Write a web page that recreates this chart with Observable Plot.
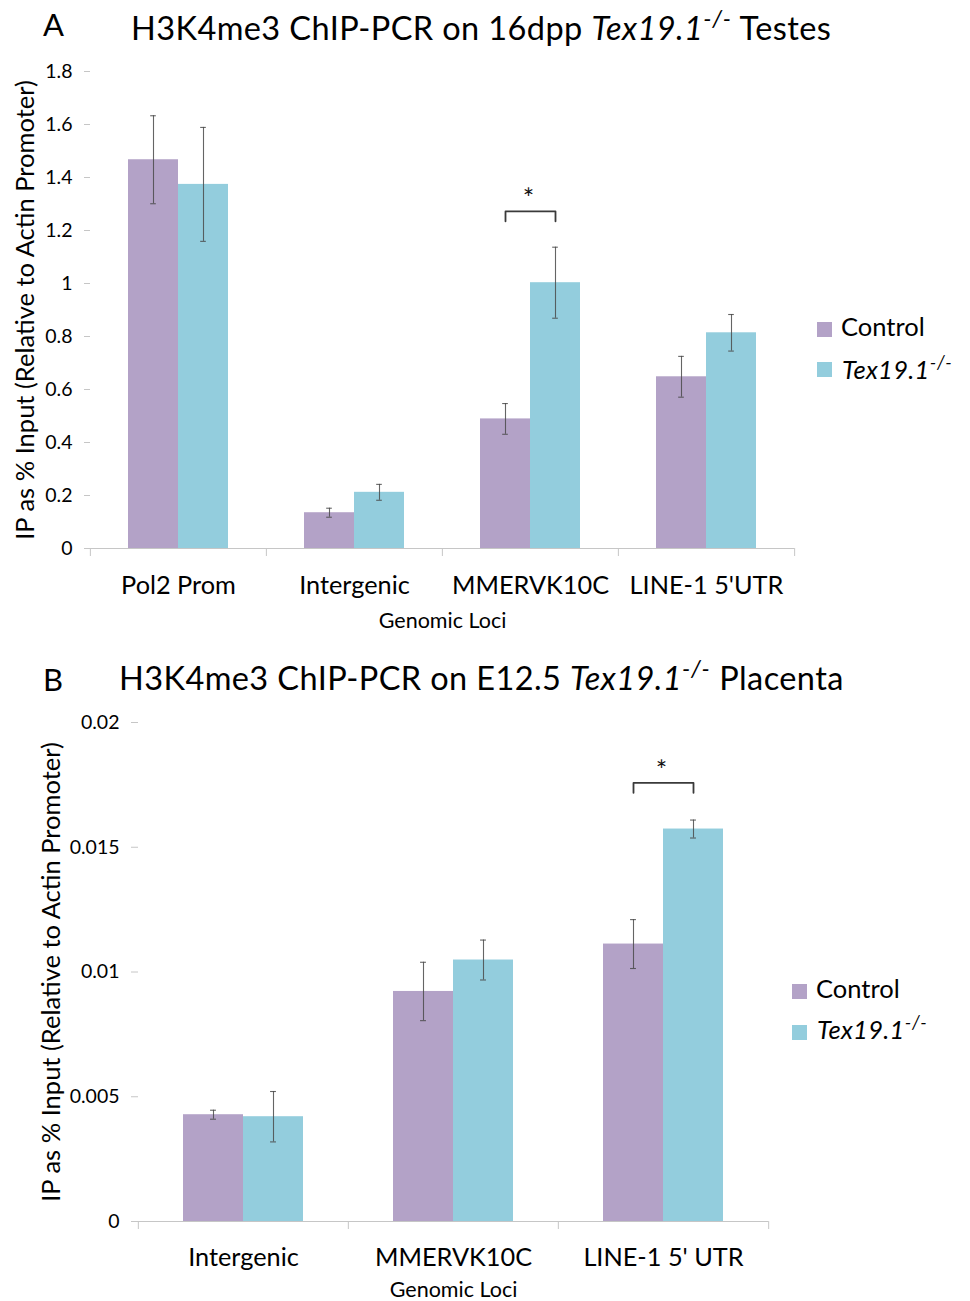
<!DOCTYPE html>
<html>
<head>
<meta charset="utf-8">
<script src="https://cdn.jsdelivr.net/npm/d3@7"></script>
<script src="https://cdn.jsdelivr.net/npm/@observablehq/plot@0.6"></script>
<style>
  body { margin: 0; background: #fff; }
  #root { position: relative; width: 970px; height: 1301px; overflow: hidden; font-family: Lato, sans-serif; color: #000; background: #fff; }
  .abs { position: absolute; white-space: nowrap; line-height: 1; }
  .panel { position: absolute; left: 0; }
  .sw { position: absolute; width: 15px; height: 15px; }
  sup { font-size: 0.72em; vertical-align: 0.55em; line-height: 0; font-style: italic; letter-spacing: 0.8px; }
</style>
</head>
<body>
<div id="root"></div>
<script>
// ---------- data ----------
const seriesNames = ["Control", "Tex19.1-/-"];
const seriesColors = ["#b3a2c7", "#93cddd"];

// Panel A: 16dpp testes
const lociA = ["Pol2 Prom", "Intergenic", "MMERVK10C", "LINE-1 5'UTR"];
const controlA = [1.467, 0.135, 0.489, 0.648];
const controlErrA = [0.166, 0.017, 0.058, 0.077];
const texA = [1.374, 0.212, 1.003, 0.814];
const texErrA = [0.215, 0.030, 0.134, 0.069];
const ticksA = [0, 0.2, 0.4, 0.6, 0.8, 1, 1.2, 1.4, 1.6, 1.8];
const sigLocusA = "MMERVK10C";
const sigLowA = 1.235;
const sigHighA = 1.272;

// Panel B: E12.5 placenta
const lociB = ["Intergenic", "MMERVK10C", "LINE-1 5' UTR"];
const controlB = [0.00428, 0.00922, 0.01112];
const controlErrB = [0.00018, 0.00117, 0.00098];
const texB = [0.0042, 0.01048, 0.01573];
const texErrB = [0.00101, 0.0008, 0.00036];
const ticksB = [0, 0.005, 0.01, 0.015, 0.02];
const sigLocusB = "LINE-1 5' UTR";
const sigLowB = 0.01718;
const sigHighB = 0.01758;

// ---------- drawing ----------
const axisGray = "#c6c6c6";
const errColor = "#4a4a4a";
const root = document.getElementById("root");

function addText(html, left, baseline, size, extra = "") {
  const d = document.createElement("div");
  d.className = "abs";
  d.style.cssText = `left:${left}px;top:${baseline - 0.887 * size}px;font-size:${size}px;${extra}`;
  d.innerHTML = html;
  root.appendChild(d);
}
function addSwatch(left, top, color) {
  const d = document.createElement("div");
  d.className = "sw";
  d.style.left = left + "px";
  d.style.top = top + "px";
  d.style.background = color;
  root.appendChild(d);
}

function panel(o) {
  const rows = [];
  o.loci.forEach((locus, i) => {
    rows.push({locus, series: seriesNames[0], value: o.ctrl[i], err: o.ctrlErr[i]});
    rows.push({locus, series: seriesNames[1], value: o.tex[i], err: o.texErr[i]});
  });
  const width = 970;
  const bandW = (width - o.ml - o.mr) / o.loci.length;
  const barW = bandW / 3.5;
  const capInset = (barW - 6) / 2;
  const bracket = [
    {locus: o.sigLocus, series: seriesNames[0], y: o.sigLow},
    {locus: o.sigLocus, series: seriesNames[0], y: o.sigHigh},
    {locus: o.sigLocus, series: seriesNames[1], y: o.sigHigh},
    {locus: o.sigLocus, series: seriesNames[1], y: o.sigLow}
  ];
  const sig = [{locus: o.sigLocus, y: o.sigHigh}];
  const last = o.loci[o.loci.length - 1];
  return Plot.plot({
    width, height: o.height,
    marginLeft: o.ml, marginRight: o.mr, marginTop: o.mt, marginBottom: o.mb,
    style: {fontFamily: "Lato, sans-serif", background: "transparent", color: "#000", overflow: "visible"},
    fx: {domain: o.loci, padding: 0},
    x: {domain: seriesNames, paddingInner: 0, paddingOuter: 0.75, axis: null},
    y: {domain: [0, o.ticks[o.ticks.length - 1]]},
    color: {domain: seriesNames, range: seriesColors},
    marks: [
      Plot.barY(rows, {fx: "locus", x: "series", y: "value", fill: "series"}),
      Plot.ruleY([0], {stroke: axisGray, strokeWidth: 1.2}),
      Plot.ruleX(rows, {fx: "locus", x: "series", y1: d => d.value - d.err, y2: d => d.value + d.err, stroke: errColor, strokeWidth: 1.1, strokeOpacity: 0.85}),
      Plot.tickY(rows, {fx: "locus", x: "series", y: d => d.value - d.err, insetLeft: capInset, insetRight: capInset, stroke: errColor, strokeWidth: 1.1, strokeOpacity: 0.85}),
      Plot.tickY(rows, {fx: "locus", x: "series", y: d => d.value + d.err, insetLeft: capInset, insetRight: capInset, stroke: errColor, strokeWidth: 1.1, strokeOpacity: 0.85}),
      Plot.line(bracket, {fx: "locus", x: "series", y: "y", stroke: "#3a3a3a", strokeWidth: 1.8}),
      Plot.text(sig, {fx: "locus", y: "y", text: () => "*", fontSize: 27, lineAnchor: "bottom", dy: -3, dx: -2, fill: "#111"}),
      Plot.axisY({ticks: o.ticks, tickFormat: o.fmt, tickSize: o.yTickSize, tickPadding: 12, stroke: axisGray, fill: "#000", fontSize: 19.5, line: true, label: null}),
      Plot.axisY({ticks: [], label: "IP as % Input (Relative to Actin Promoter)", labelArrow: "none", labelAnchor: "center", labelOffset: o.yLabelOffset, fontSize: 25.5, fill: "#000"}),
      Plot.axisFx({anchor: "bottom", tickSize: 0, tickPadding: o.fxPad, fontSize: 25.3, label: null, fill: "#000"}),
      Plot.axisFx({anchor: "bottom", tickSize: 8, tickFormat: () => "", dx: -bandW / 2, stroke: axisGray, label: null}),
      Plot.axisFx({anchor: "bottom", ticks: [last], tickSize: 8, tickFormat: () => "", dx: bandW / 2, stroke: axisGray, label: null}),
      Plot.axisFx({anchor: "bottom", ticks: [], label: "Genomic Loci", labelArrow: "none", labelAnchor: "center", labelOffset: o.fxLabelOffset, fontSize: 21.5, fill: "#000"})
    ]
  });
}

function mount(svg, top) {
  const w = document.createElement("div");
  w.className = "panel";
  w.style.top = top + "px";
  w.appendChild(svg);
  root.appendChild(w);
}

mount(panel({
  loci: lociA, ctrl: controlA, ctrlErr: controlErrA, tex: texA, texErr: texErrA,
  ticks: ticksA, fmt: d => String(+d.toFixed(1)),
  sigLocus: sigLocusA, sigLow: sigLowA, sigHigh: sigHighA,
  height: 640, ml: 89, mr: 176, mt: 71, mb: 92,
  yTickSize: 6, yLabelOffset: 75, fxPad: 28, fxLabelOffset: 79
}), 0);

mount(panel({
  loci: lociB, ctrl: controlB, ctrlErr: controlErrB, tex: texB, texErr: texErrB,
  ticks: ticksB, fmt: d => String(+d.toFixed(3)),
  sigLocus: sigLocusB, sigLow: sigLowB, sigHigh: sigHighB,
  height: 661, ml: 137, mr: 202, mt: 82, mb: 80,
  yTickSize: 7, yLabelOffset: 97, fxPad: 27, fxLabelOffset: 75
}), 640);

// titles
const texLabel = "<i>Tex19.1</i><sup>-/-</sup>";
const titleStyle = "letter-spacing:0.4px;";
addText("A", 43, 36, 31);
addText("H3K4me3 ChIP-PCR on 16dpp " + texLabel + " Testes", 131, 41, 32.5, titleStyle);
addText("B", 43, 691, 31);
addText("H3K4me3 ChIP-PCR on E12.5 " + texLabel + " Placenta", 119, 691, 32.5, titleStyle);

// legends
const legendStyle = "letter-spacing:0.3px;";
addSwatch(817, 322, seriesColors[0]);
addSwatch(817, 362, seriesColors[1]);
addText(seriesNames[0], 841, 337, 25.5);
addText(texLabel, 842, 380, 25.5, legendStyle);
addSwatch(792, 984, seriesColors[0]);
addSwatch(792, 1025, seriesColors[1]);
addText(seriesNames[0], 816, 999, 25.5);
addText(texLabel, 817, 1040, 25.5, legendStyle);
</script>
</body>
</html>
